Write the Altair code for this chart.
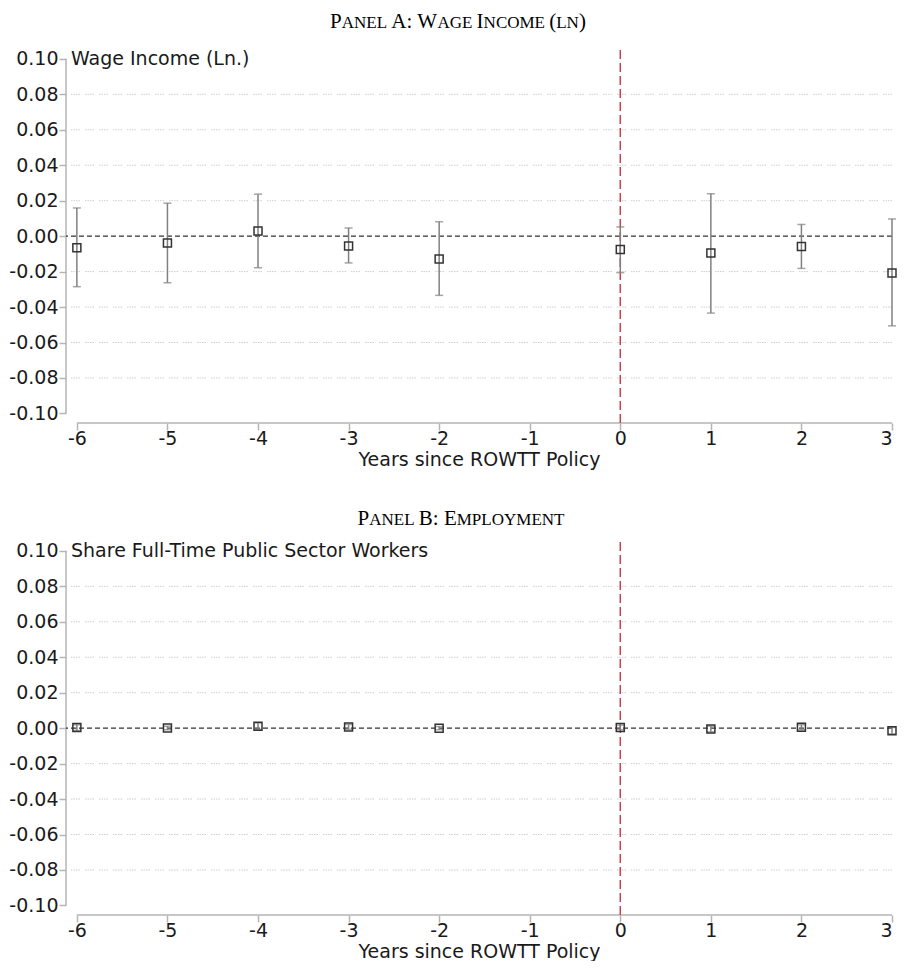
import altair as alt
import pandas as pd

# ---------------- data ----------------
years = [-6, -5, -4, -3, -2, 0, 1, 2, 3]

est_a = [-0.0065, -0.0038, 0.0029, -0.0055, -0.0129, -0.0076, -0.0095, -0.0058, -0.0208]
lo_a = [-0.0285, -0.0263, -0.0178, -0.0151, -0.0334, -0.0206, -0.0434, -0.0182, -0.0506]
hi_a = [0.0159, 0.0186, 0.0237, 0.0046, 0.0081, 0.0052, 0.0239, 0.0066, 0.0097]

est_b = [0.0003, 0.0001, 0.0011, 0.0007, 0.0000, 0.0004, -0.0005, 0.0005, -0.0014]
lo_b = [-0.0013, -0.0009, -0.0007, -0.0007, -0.0009, -0.0009, -0.0021, -0.0009, -0.0032]
hi_b = [0.0019, 0.0011, 0.0029, 0.0021, 0.0009, 0.0017, 0.0011, 0.0019, 0.0004]

x_ticks = [-6, -5, -4, -3, -2, -1, 0, 1, 2, 3]
y_ticks = [-0.10, -0.08, -0.06, -0.04, -0.02, 0.00, 0.02, 0.04, 0.06, 0.08, 0.10]
grid_vals = [-0.08, -0.06, -0.04, -0.02, 0.02, 0.04, 0.06, 0.08]

x_title = "Years since ROWTT Policy"
label_a = "Wage Income (Ln.)"
label_b = "Share Full-Time Public Sector Workers"

# small-caps titles: (text, is_big)
title_a = [("P", True), ("ANEL ", False), ("A: W", True), ("AGE ", False), ("I", True),
           ("NCOME ", False), ("(", True), ("LN", False), (")", True)]
title_b = [("P", True), ("ANEL ", False), ("B: E", True), ("MPLOYMENT", False)]

# ---------------- layout ----------------
X_DOM = [-6.12, 3.0]
Y_DOM = [-0.1054, 0.1050]
W = 826
H = 373
FONT = "DejaVu Sans"
FS = 19
BIG, SMALL = 21, 17
TNR = {"A": .722, "B": .667, "C": .667, "D": .722, "E": .611, "F": .556, "G": .722, "H": .722,
       "I": .333, "J": .389, "K": .722, "L": .611, "M": .889, "N": .722, "O": .722, "P": .556,
       "Q": .722, "R": .667, "S": .556, "T": .611, "U": .722, "V": .722, "W": .944, "X": .722,
       "Y": .722, "Z": .611, " ": .25, ":": .278, "(": .333, ")": .333}

xs = alt.Scale(domain=X_DOM, nice=False, zero=False)
ys = alt.Scale(domain=Y_DOM, nice=False, zero=False)

AXIS_GRAY = "#b5b5b5"
TXT = "#1a1a1a"


def title_layers(segs, cx, base_y):
    widths = [sum(TNR[c] for c in t) * (BIG if big else SMALL) for t, big in segs]
    x = cx - sum(widths) / 2
    out = []
    for (t, big), w in zip(segs, widths):
        out.append(
            alt.Chart(pd.DataFrame({"t": [t]}))
            .mark_text(align="left", baseline="alphabetic", font="Liberation Serif",
                       fontSize=BIG if big else SMALL, color="black")
            .encode(x=alt.value(x), y=alt.value(base_y), text="t:N")
        )
        x += w
    return out


def panel(est, lo, hi, label, tsegs, title_cx, title_y):
    df = pd.DataFrame({"year": years, "est": est, "lo": lo, "hi": hi})
    gdf = pd.DataFrame({"g": grid_vals})

    # invisible layer carrying both axes (first layer, so its axis settings win)
    axes = alt.Chart(df).mark_point(opacity=0, size=1).encode(
        x=alt.X("year:Q", scale=xs,
                axis=alt.Axis(values=x_ticks, tickCount=20, title=x_title, domain=False, grid=False,
                              tickSize=7, tickColor=AXIS_GRAY, tickWidth=1.5,
                              labelFont=FONT, labelFontSize=FS, labelColor=TXT,
                              labelPadding=-1, labelFlush=True, labelOverlap=False,
                              labelExpr="datum.value < 0 ? '-' + format(-datum.value, 'd') : format(datum.value, 'd')",
                              titleFont=FONT, titleFontSize=FS, titleFontWeight="normal",
                              titleColor=TXT, titlePadding=2)),
        y=alt.Y("est:Q", scale=ys,
                axis=alt.Axis(values=y_ticks, tickCount=20, title=None, domain=False, grid=False,
                              tickSize=7, tickColor=AXIS_GRAY, tickWidth=1.5,
                              labelFont=FONT, labelFontSize=FS, labelColor=TXT,
                              labelPadding=1, labelFlush=False, labelOverlap=False,
                              labelExpr="datum.value < -0.0001 ? '-' + format(-datum.value, '.2f') : format(abs(datum.value), '.2f')")),
    )

    grid = alt.Chart(gdf).mark_rule(color="#cfcfcf", strokeWidth=1,
                                    strokeDash=[1.5, 1, 1.5, 1, 1.5, 1, 1.5, 5]).encode(
        y=alt.Y("g:Q", scale=ys))

    one = pd.DataFrame({"a": [0]})
    yline = alt.Chart(one).mark_rule(color=AXIS_GRAY, strokeWidth=1.5).encode(
        x=alt.value(0), y=alt.YDatum(-0.10, scale=ys), y2=alt.Y2Datum(0.10))
    xline = alt.Chart(one).mark_rule(color=AXIS_GRAY, strokeWidth=1.5).encode(
        y=alt.value(H), x=alt.XDatum(-6, scale=xs), x2=alt.X2Datum(3))
    zero = alt.Chart(one).mark_rule(color="#333333", strokeWidth=1.3, strokeDash=[5, 3]).encode(
        y=alt.YDatum(0, scale=ys))
    red = alt.Chart(one).mark_rule(color="#c0434f", strokeWidth=1.5, strokeDash=[9, 4]).encode(
        x=alt.XDatum(0, scale=xs))

    err = alt.Chart(df).mark_errorbar(ticks={"size": 8, "color": "#808080", "strokeWidth": 1.5},
                                      color="#808080", thickness=1.5).encode(
        x=alt.X("year:Q", scale=xs),
        y=alt.Y("lo:Q", scale=ys),
        y2="hi:Q")

    pts = alt.Chart(df).mark_point(shape="square", filled=False, size=64, color="#333333",
                                   strokeWidth=1.5, opacity=1).encode(
        x=alt.X("year:Q", scale=xs),
        y=alt.Y("est:Q", scale=ys),
    )

    lab = alt.Chart(pd.DataFrame({"t": [label]})).mark_text(
        align="left", baseline="middle", font=FONT, fontSize=FS, color=TXT).encode(
        x=alt.value(5), y=alt.YDatum(0.10, scale=ys), text="t:N")

    layers = [axes, grid, yline, xline, zero, red, err, pts, lab] + title_layers(tsegs, title_cx, title_y)
    return alt.layer(*layers).properties(width=W, height=H)


pa = panel(est_a, lo_a, hi_a, label_a, title_a, 392, -22.5)
pb = panel(est_b, lo_b, hi_b, label_b, title_b, 395, -17.5)

chart = alt.vconcat(pa, pb, spacing=38).properties(
    padding={"top": 2, "bottom": 0, "left": 0, "right": 0},
    background="white").configure_view(stroke=None)

chart.save("out.html", embed_options={"renderer": "svg", "actions": False})
